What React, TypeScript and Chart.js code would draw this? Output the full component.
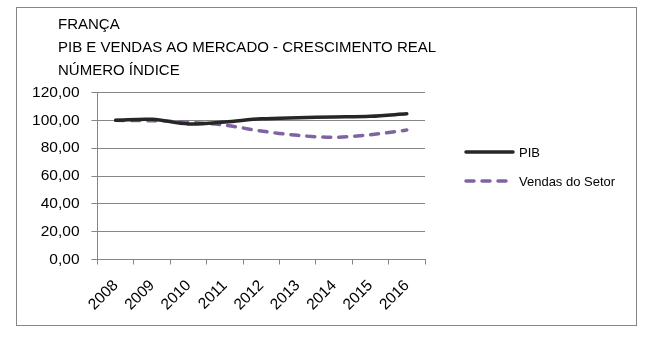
import React, { useEffect, useRef } from "react";
import { Chart, registerables } from "chart.js";

Chart.register(...registerables);

const years = ["2008", "2009", "2010", "2011", "2012", "2013", "2014", "2015", "2016"];
const pib = [100.0, 100.7, 97.4, 98.8, 101.1, 101.9, 102.4, 102.9, 104.7];
const vendas = [100.0, 99.7, 98.6, 96.5, 92.3, 89.2, 87.8, 89.7, 93.0];
const seriesNames = ["PIB", "Vendas do Setor"];
const titleLines = ["FRANÇA", "PIB E VENDAS AO MERCADO - CRESCIMENTO REAL", "NÚMERO ÍNDICE"];
const yMin = 0;
const yMax = 120;
const yStep = 20;

const FONT = '"Liberation Sans", Arial, sans-serif';
const GRID = "#868686";

const titlePlugin = {
  id: "leftTitle",
  afterDraw(chart: any) {
    const ctx = chart.ctx;
    ctx.save();
    ctx.font = `15px ${FONT}`;
    ctx.fillStyle = "#000";
    ctx.textAlign = "left";
    ctx.textBaseline = "alphabetic";
    titleLines.forEach((t, i) => ctx.fillText(t, 41, 20.5 + i * 23.4));
    ctx.restore();
  },
};

const legendPlugin = {
  id: "sideLegend",
  afterDraw(chart: any) {
    const ctx = chart.ctx;
    const ca = chart.chartArea;
    ctx.save();
    chart.data.datasets.forEach((ds: any, i: number) => {
      const y = 144 + i * 29;
      ctx.beginPath();
      ctx.strokeStyle = ds.borderColor;
      ctx.lineWidth = ds.borderWidth;
      ctx.lineCap = "round";
      ctx.setLineDash(ds.borderDash || []);
      ctx.moveTo(ca.right + 41, y);
      ctx.lineTo(ca.right + 88, y);
      ctx.stroke();
      ctx.setLineDash([]);
      ctx.font = `13px ${FONT}`;
      ctx.fillStyle = "#000";
      ctx.textAlign = "left";
      ctx.textBaseline = "middle";
      ctx.fillText(ds.label, ca.right + 94, y + 1);
    });
    ctx.restore();
  },
};

export default function App() {
  const ref = useRef<HTMLCanvasElement | null>(null);

  useEffect(() => {
    if (!ref.current) return;
    const chart = new Chart(ref.current, {
      type: "line",
      data: {
        labels: years,
        datasets: [
          {
            label: seriesNames[0],
            data: pib,
            borderColor: "#262626",
            backgroundColor: "#262626",
            borderWidth: 3.5,
            pointRadius: 0,
            tension: 0.33,
            borderCapStyle: "round",
          },
          {
            label: seriesNames[1],
            data: vendas,
            borderColor: "#8064A2",
            backgroundColor: "#8064A2",
            borderWidth: 3.5,
            borderDash: [8, 8],
            borderCapStyle: "round",
            pointRadius: 0,
            tension: 0.33,
          },
        ],
      },
      options: {
        animation: false,
        responsive: false,
        layout: { padding: { top: 84.5, right: 211, left: 0, bottom: 0 } },
        plugins: {
          legend: { display: false },
          title: { display: false },
          tooltip: { enabled: false },
        },
        scales: {
          x: {
            offset: true,
            grid: {
              offset: true,
              drawOnChartArea: false,
              drawTicks: true,
              tickLength: 5,
              color: GRID,
            },
            border: { color: GRID },
            ticks: {
              minRotation: 45,
              maxRotation: 45,
              color: "#000",
              font: { family: FONT, size: 15.5 },
              padding: 12,
            },
            afterFit: (s: any) => {
              s.height = 65.5;
            },
          },
          y: {
            min: yMin,
            max: yMax,
            ticks: {
              stepSize: yStep,
              color: "#000",
              font: { family: FONT, size: 15.5 },
              padding: 12,
              callback: (v: any) => Number(v).toFixed(2).replace(".", ","),
            },
            grid: { color: GRID, tickLength: 6 },
            border: { color: GRID },
            afterFit: (s: any) => {
              s.width = 80.5;
            },
          },
        },
      },
      plugins: [titlePlugin, legendPlugin],
    });
    return () => chart.destroy();
  }, []);

  return (
    <div
      style={{
        position: "absolute",
        left: 16,
        top: 7,
        width: 621,
        height: 319,
        border: `1px solid ${GRID}`,
        boxSizing: "border-box",
        background: "#fff",
      }}
    >
      <canvas ref={ref} width={619} height={317} style={{ display: "block" }} />
    </div>
  );
}
